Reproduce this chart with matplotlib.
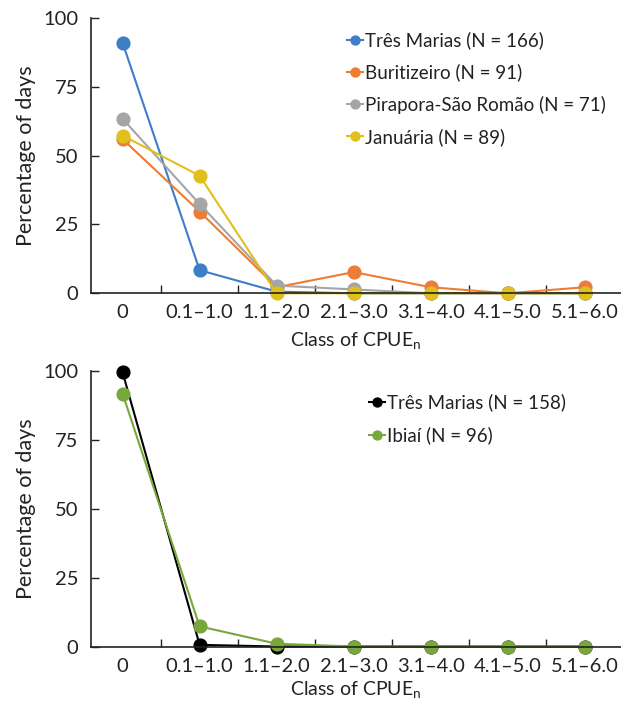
import matplotlib.pyplot as plt

plt.rcParams['font.family'] = ['Lato', 'DejaVu Sans']

# Datos
clases = ["0", "0.1–1.0", "1.1–2.0", "2.1–3.0", "3.1–4.0", "4.1–5.0", "5.1–6.0"]

series_arriba = ["Três Marias (N = 166)", "Buritizeiro (N = 91)",
                 "Pirapora-São Romão (N = 71)", "Januária (N = 89)"]
tres_marias_1 = [91.0, 8.4, 0.6, 0.0, 0.0, 0.0, 0.0]
buritizeiro = [56.0, 29.7, 2.2, 7.7, 2.2, 0.0, 2.2]
pirapora = [63.4, 32.4, 2.8, 1.4, 0.0, 0.0, 0.0]
januaria = [57.3, 42.7, 0.0, 0.0, 0.0, 0.0, 0.0]
colores_arriba = ["#3d7ec8", "#ec7d33", "#a5a5a5", "#e1bf1c"]

series_abajo = ["Três Marias (N = 158)", "Ibiaí (N = 96)"]
tres_marias_2 = [99.4, 0.6, 0.0, 0.0, 0.0, 0.0, 0.0]
ibiai = [91.7, 7.3, 1.0, 0.0, 0.0, 0.0, 0.0]
colores_abajo = ["#000000", "#78a73c"]

fs = 14.5
fs_leg = 13.5
W, H = 621, 701
fig = plt.figure(figsize=(W / 100, H / 100), dpi=100)


def hacer_ejes(top_px, bottom_px):
    ax = fig.add_axes([91 / W, 1 - bottom_px / H, 1 - 91 / W, (bottom_px - top_px) / H])
    return ax


def estilo(ax, leg_loc, espaciado, pad_xlabel):
    x = range(len(clases))
    ax.set_xlim(-0.41, 6.47)
    ax.set_ylim(0, 100)
    ax.set_yticks([0, 25, 50, 75, 100])
    ax.set_xticks([i + 0.5 for i in range(6)])
    ax.set_xticklabels([])
    ax.set_xticks(list(x), minor=True)
    ax.set_xticklabels(clases, minor=True, fontsize=fs)
    ax.tick_params(axis='x', which='major', direction='in', length=5.5, width=1, color='#222222')
    ax.tick_params(axis='x', which='minor', length=0, pad=8, labelcolor='#222222')
    ax.tick_params(axis='y', direction='in', length=5.5, width=1, labelsize=fs,
                   pad=9, color='#222222', labelcolor='#222222')
    for s in ['top', 'right']:
        ax.spines[s].set_visible(False)
    for s in ['left', 'bottom']:
        ax.spines[s].set_linewidth(1.2)
        ax.spines[s].set_color('#222222')
    ax.set_ylabel("Percentage of days", fontsize=15.5, color='#222222', labelpad=5)
    ax.set_xlabel("Class of CPUE$_\\mathregular{n}$", fontsize=14, color='#222222',
                  labelpad=pad_xlabel)
    ax.legend(loc='upper left', bbox_to_anchor=leg_loc, frameon=False, fontsize=fs_leg,
              handlelength=0.87, handletextpad=0.1, markerscale=0.7, borderpad=0,
              labelspacing=espaciado, borderaxespad=0, labelcolor='#222222')


# Gráfica superior
ax1 = hacer_ejes(18, 293.3)
for vals, nombre, c in zip([tres_marias_1, buritizeiro, pirapora, januaria], series_arriba, colores_arriba):
    ax1.plot(range(len(clases)), vals, color=c, lw=1.5, marker='o', ms=9.2,
             label=nombre, clip_on=False)
estilo(ax1, (0.4825, 0.951), 0.76, 6.5)

# Gráfica inferior
ax2 = hacer_ejes(370.7, 646.5)
for vals, nombre, c in zip([tres_marias_2, ibiai], series_abajo, colores_abajo):
    ax2.plot(range(len(clases)), vals, color=c, lw=1.5, marker='o', ms=9.2,
             label=nombre, clip_on=False)
estilo(ax2, (0.5245, 0.918), 0.82, 4)

fig.savefig("out.png", dpi=100)
